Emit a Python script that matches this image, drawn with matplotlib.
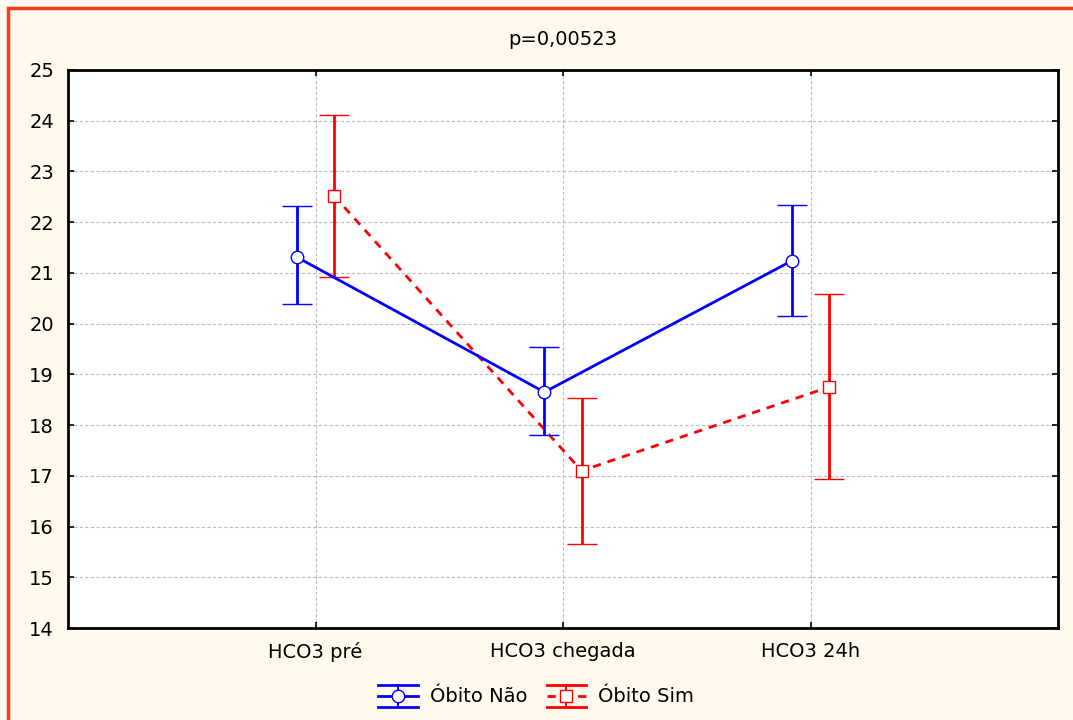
import matplotlib
matplotlib.use("Agg")
import matplotlib.pyplot as plt
from matplotlib.patches import Rectangle
from matplotlib.legend_handler import HandlerBase
from matplotlib.lines import Line2D
import numpy as np

plt.rcParams['font.family'] = ['DejaVu Sans']

categories = ["HCO3 pré", "HCO3 chegada", "HCO3 24h"]
nao_mean = [21.31, 18.65, 21.24]
nao_upper = [22.32, 19.54, 22.34]
nao_lower = [20.39, 17.80, 20.15]
sim_mean = [22.52, 17.10, 18.75]
sim_upper = [24.11, 18.53, 20.58]
sim_lower = [20.92, 15.66, 16.94]
series_labels = ["Óbito Não", "Óbito Sim"]
title = "p=0,00523"

FS = 14
bg = '#FFF9EE'
fig = plt.figure(figsize=(10.73, 7.2), dpi=100, facecolor=bg)
fig.patches.append(Rectangle((7.5/1073, -0.05), 1.2, 1 - 7.5/720 + 0.05,
                             transform=fig.transFigure, fill=False,
                             edgecolor='#FF3A1A', linewidth=2.5, zorder=0))

ax = fig.add_axes([68/1073, 1 - 628/720, (1058-68)/1073, (628-70)/720])
ax.set_facecolor('white')

x = np.arange(len(categories))
off = 0.075
LW = 2.0

def err(mean, lo, up):
    m = np.array(mean); return [m - np.array(lo), np.array(up) - m]

styles = [dict(color='#0000FF', ls='-', marker='o', ms=9),
          dict(color='#FF0000', ls=(0, (3, 2.5)), marker='s', ms=8)]

e1 = ax.errorbar(x - off, nao_mean, yerr=err(nao_mean, nao_lower, nao_upper),
                 color='#0000FF', lw=LW, ls='-', marker='o', ms=9,
                 mfc='white', mec='#0000FF', mew=1, capsize=11, capthick=LW,
                 elinewidth=LW, zorder=4)
e2 = ax.errorbar(x + off, sim_mean, yerr=err(sim_mean, sim_lower, sim_upper),
                 color='#FF0000', lw=LW, ls=(0, (3, 2.5)), marker='s', ms=8,
                 mfc='white', mec='#FF0000', mew=1, capsize=11, capthick=LW,
                 elinewidth=LW, zorder=3)

ax.set_xlim(-1, 3)
ax.set_ylim(14, 25)
ax.set_yticks(np.arange(14, 26, 1))
ax.set_xticks(x)
ax.set_xticklabels(categories)
ax.grid(True, color='#BBBBBB', ls=(0, (3, 2)), lw=0.8)
ax.set_axisbelow(True)
for s in ax.spines.values():
    s.set_linewidth(2)
    s.set_color('black')
ax.tick_params(direction='in', length=4, width=1.2, labelsize=FS,
               top=True, right=True, pad=10)
ax.tick_params(axis='x', pad=10)

ax.set_title(title, fontsize=FS, pad=18)


class ErrHandler(HandlerBase):
    def __init__(self, st):
        super().__init__()
        self.st = st

    def create_artists(self, legend, orig_handle, xdescent, ydescent, width,
                       height, fontsize, trans):
        st = self.st
        c = st['color']
        yc = height / 2 - ydescent
        h = height * 0.8
        arts = []
        arts.append(Line2D([-xdescent, width - xdescent], [yc + h, yc + h], color=c, lw=LW, transform=trans))
        arts.append(Line2D([-xdescent, width - xdescent], [yc - h, yc - h], color=c, lw=LW, transform=trans))
        xm = width / 2 - xdescent
        arts.append(Line2D([xm, xm], [yc - h, yc + h], color=c, lw=LW * 0.7, transform=trans))
        arts.append(Line2D([-xdescent, width - xdescent], [yc, yc], color=c, lw=LW, ls=st['ls'], transform=trans))
        arts.append(Line2D([xm], [yc], color=c, marker=st['marker'], ms=st['ms'],
                           mfc='white', mec=c, mew=1, ls='none', transform=trans))
        return arts


h1 = Line2D([], [])
h2 = Line2D([], [])
leg = fig.legend(handles=[h1, h2], labels=series_labels, loc='center',
                 bbox_to_anchor=(536/1073, 1 - 697/720), ncol=2, frameon=False,
                 fontsize=FS, handlelength=2.05, columnspacing=1.0, handletextpad=0.6,
                 handler_map={h1: ErrHandler(styles[0]), h2: ErrHandler(styles[1])})

fig.savefig("out.png", dpi=100, facecolor=bg)
